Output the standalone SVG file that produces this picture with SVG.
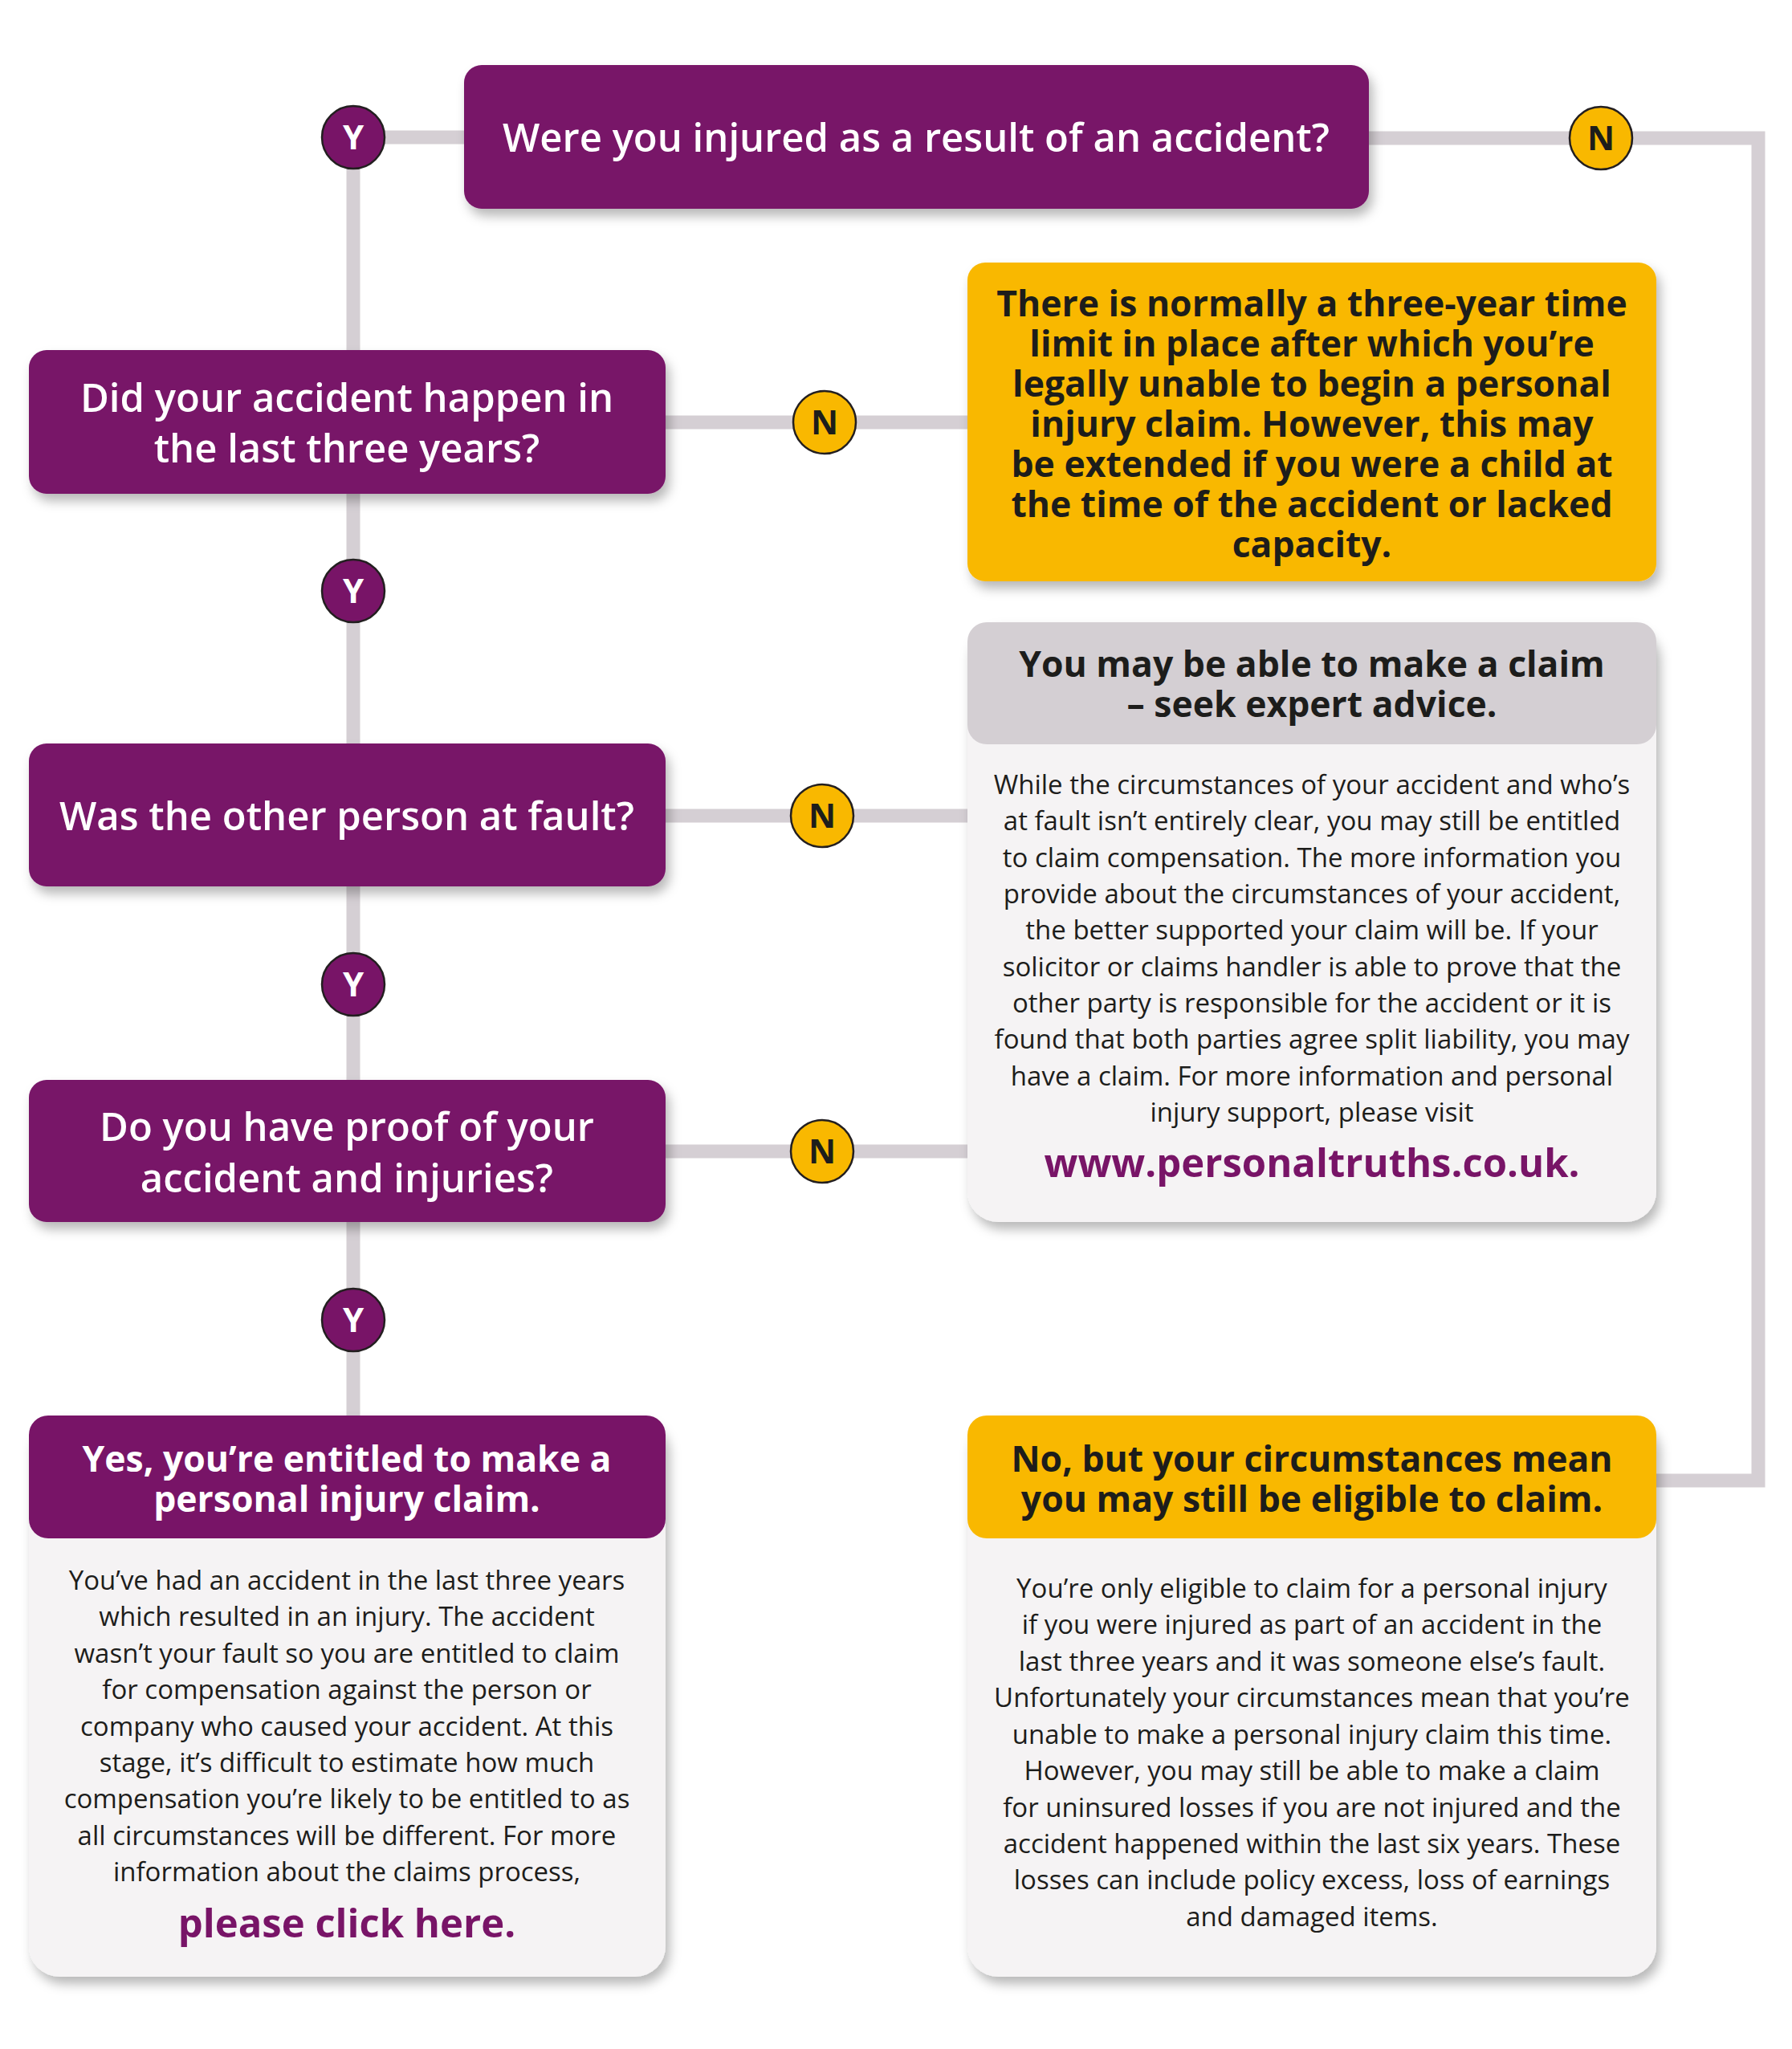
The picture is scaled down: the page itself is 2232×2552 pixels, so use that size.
<svg xmlns="http://www.w3.org/2000/svg" width="2232" height="2552" viewBox="0 0 2232 2552">
<defs>
<filter id="sh" x="-10%" y="-10%" width="125%" height="130%">
<feDropShadow dx="5" dy="9" stdDeviation="7" flood-color="#000" flood-opacity="0.28"/>
</filter>
<style>
.pur{fill:#781467}
.yel{fill:#f9b800}
.gry{fill:#d4cfd3}
.lt{fill:#f5f3f4}
.q{font-family:"Open Sans","Noto Sans",sans-serif;font-weight:600;font-size:49px;fill:#fff;text-anchor:middle}
.h{font-family:"Open Sans","Noto Sans",sans-serif;font-weight:700;font-size:44.5px;fill:#1d1d1b;text-anchor:middle}
.hw{fill:#fff}
.b{font-family:"Open Sans","Noto Sans",sans-serif;font-weight:400;font-size:33px;fill:#1d1d1b;text-anchor:middle}
.lk{font-family:"Open Sans","Noto Sans",sans-serif;font-weight:700;font-size:49px;fill:#781467;text-anchor:middle}
.c{stroke:#231f20;stroke-width:2.5}
.ct{font-family:"Open Sans","Noto Sans",sans-serif;font-weight:700;font-size:42px;text-anchor:middle}
.ln{fill:none;stroke:#d5cfd4;stroke-width:17}
</style>
</defs>
<rect width="2232" height="2552" fill="#fff"/>

<g id="connectors">
<line class="ln" x1="440" y1="171" x2="590" y2="171"/>
<line class="ln" x1="440" y1="171" x2="440" y2="1775"/>
<polyline class="ln" points="1690,172 2190,172 2190,1844 2050,1844"/>
<line class="ln" x1="820" y1="526" x2="1215" y2="526"/>
<line class="ln" x1="820" y1="1016" x2="1215" y2="1016"/>
<line class="ln" x1="820" y1="1434" x2="1215" y2="1434"/>
</g>

<g id="q1">
<rect class="pur" x="578" y="81" width="1127" height="179" rx="22" filter="url(#sh)"/>
<text class="q" x="1141" y="189">Were you injured as a result of an accident?</text>
</g>

<g id="q2">
<rect class="pur" x="36" y="436" width="793" height="179" rx="22" filter="url(#sh)"/>
<text class="q" x="432" y="513">Did your accident happen in</text>
<text class="q" x="432" y="576">the last three years?</text>
</g>

<g id="q3">
<rect class="pur" x="36" y="926" width="793" height="178" rx="22" filter="url(#sh)"/>
<text class="q" x="432" y="1034">Was the other person at fault?</text>
</g>

<g id="q4">
<rect class="pur" x="36" y="1345" width="793" height="177" rx="22" filter="url(#sh)"/>
<text class="q" x="432" y="1421">Do you have proof of your</text>
<text class="q" x="432" y="1485">accident and injuries?</text>
</g>

<g id="timelimit">
<rect class="yel" x="1205" y="327" width="858" height="397" rx="22" filter="url(#sh)"/>
<text class="h" x="1634" y="394">There is normally a three-year time</text>
<text class="h" x="1634" y="444">limit in place after which you’re</text>
<text class="h" x="1634" y="494">legally unable to begin a personal</text>
<text class="h" x="1634" y="544">injury claim. However, this may</text>
<text class="h" x="1634" y="594">be extended if you were a child at</text>
<text class="h" x="1634" y="644">the time of the accident or lacked</text>
<text class="h" x="1634" y="694">capacity.</text>
</g>

<g id="advice">
<rect class="lt" x="1205" y="775" width="858" height="747" rx="38" filter="url(#sh)"/>
<rect class="gry" x="1205" y="775" width="858" height="152" rx="24"/>
<text class="h" x="1634" y="843">You may be able to make a claim</text>
<text class="h" x="1634" y="893">– seek expert advice.</text>
<text class="b" x="1634" y="989">While the circumstances of your accident and who’s</text>
<text class="b" x="1634" y="1034">at fault isn’t entirely clear, you may still be entitled</text>
<text class="b" x="1634" y="1080">to claim compensation. The more information you</text>
<text class="b" x="1634" y="1125">provide about the circumstances of your accident,</text>
<text class="b" x="1634" y="1170">the better supported your claim will be. If your</text>
<text class="b" x="1634" y="1216">solicitor or claims handler is able to prove that the</text>
<text class="b" x="1634" y="1261">other party is responsible for the accident or it is</text>
<text class="b" x="1634" y="1306">found that both parties agree split liability, you may</text>
<text class="b" x="1634" y="1352">have a claim. For more information and personal</text>
<text class="b" x="1634" y="1397">injury support, please visit</text>
<text class="lk" x="1634" y="1466">www.personaltruths.co.uk.</text>
</g>

<g id="yes">
<rect class="lt" x="36" y="1763" width="793" height="699" rx="38" filter="url(#sh)"/>
<rect class="pur" x="36" y="1763" width="793" height="153" rx="24"/>
<text class="h hw" x="432" y="1833">Yes, you’re entitled to make a</text>
<text class="h hw" x="432" y="1883">personal injury claim.</text>
<text class="b" x="432" y="1980">You’ve had an accident in the last three years</text>
<text class="b" x="432" y="2025">which resulted in an injury. The accident</text>
<text class="b" x="432" y="2071">wasn’t your fault so you are entitled to claim</text>
<text class="b" x="432" y="2116">for compensation against the person or</text>
<text class="b" x="432" y="2162">company who caused your accident. At this</text>
<text class="b" x="432" y="2207">stage, it’s difficult to estimate how much</text>
<text class="b" x="432" y="2252">compensation you’re likely to be entitled to as</text>
<text class="b" x="432" y="2298">all circumstances will be different. For more</text>
<text class="b" x="432" y="2343">information about the claims process,</text>
<text class="lk" x="432" y="2413">please click here.</text>
</g>

<g id="no">
<rect class="lt" x="1205" y="1763" width="858" height="699" rx="38" filter="url(#sh)"/>
<rect class="yel" x="1205" y="1763" width="858" height="153" rx="24"/>
<text class="h" x="1634" y="1833">No, but your circumstances mean</text>
<text class="h" x="1634" y="1883">you may still be eligible to claim.</text>
<text class="b" x="1634" y="1990">You’re only eligible to claim for a personal injury</text>
<text class="b" x="1634" y="2035">if you were injured as part of an accident in the</text>
<text class="b" x="1634" y="2081">last three years and it was someone else’s fault.</text>
<text class="b" x="1634" y="2126">Unfortunately your circumstances mean that you’re</text>
<text class="b" x="1634" y="2172">unable to make a personal injury claim this time.</text>
<text class="b" x="1634" y="2217">However, you may still be able to make a claim</text>
<text class="b" x="1634" y="2263">for uninsured losses if you are not injured and the</text>
<text class="b" x="1634" y="2308">accident happened within the last six years. These</text>
<text class="b" x="1634" y="2353">losses can include policy excess, loss of earnings</text>
<text class="b" x="1634" y="2399">and damaged items.</text>
</g>

<g id="y1"><circle class="pur c" cx="440" cy="171" r="39"/><text class="ct" x="440" y="186" fill="#fff">Y</text></g>
<g id="n1"><circle class="yel c" cx="1994" cy="172" r="39"/><text class="ct" x="1994" y="187" fill="#1d1d1b">N</text></g>
<g id="n2"><circle class="yel c" cx="1027" cy="526" r="39"/><text class="ct" x="1027" y="541" fill="#1d1d1b">N</text></g>
<g id="y2"><circle class="pur c" cx="440" cy="736" r="39"/><text class="ct" x="440" y="751" fill="#fff">Y</text></g>
<g id="n3"><circle class="yel c" cx="1024" cy="1016" r="39"/><text class="ct" x="1024" y="1031" fill="#1d1d1b">N</text></g>
<g id="y3"><circle class="pur c" cx="440" cy="1226" r="39"/><text class="ct" x="440" y="1241" fill="#fff">Y</text></g>
<g id="n4"><circle class="yel c" cx="1024" cy="1434" r="39"/><text class="ct" x="1024" y="1449" fill="#1d1d1b">N</text></g>
<g id="y4"><circle class="pur c" cx="440" cy="1644" r="39"/><text class="ct" x="440" y="1659" fill="#fff">Y</text></g>
</svg>
